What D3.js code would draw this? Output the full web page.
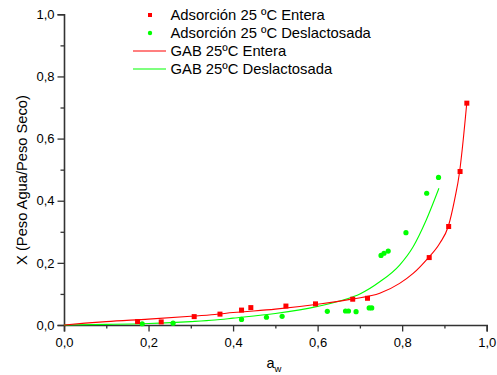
<!DOCTYPE html>
<html>
<head>
<meta charset="utf-8">
<script src="https://cdn.jsdelivr.net/npm/d3@7"></script>
<style>
  body { margin: 0; background: #fff; }
  text { font-family: "Liberation Sans", Arial, sans-serif; fill: #000; }
</style>
</head>
<body>
<div id="chart"></div>
<script>
// measured points: Adsorción 25 ºC Entera
const enteraAw = [0.174, 0.230, 0.308, 0.369, 0.420, 0.442, 0.525, 0.595, 0.683, 0.718, 0.864, 0.910, 0.937, 0.953]
const enteraX  = [0.011, 0.010, 0.027, 0.035, 0.048, 0.056, 0.061, 0.068, 0.083, 0.086, 0.217, 0.317, 0.494, 0.714]

// measured points: Adsorción 25 ºC Deslactosada
const deslacAw = [0.185, 0.258, 0.420, 0.479, 0.516, 0.623, 0.666, 0.673, 0.691, 0.722, 0.728, 0.750, 0.757, 0.767, 0.809, 0.858, 0.886]
const deslacX  = [0.004, 0.006, 0.018, 0.025, 0.028, 0.044, 0.045, 0.045, 0.043, 0.055, 0.055, 0.224, 0.231, 0.238, 0.297, 0.424, 0.475]

// GAB fitted curves
const gabEnteraAw = [0, 0.05, 0.1, 0.2, 0.3, 0.357, 0.4, 0.5, 0.6, 0.684, 0.747, 0.794, 0.826, 0.857, 0.889, 0.909, 0.924, 0.936, 0.942, 0.953]
const gabEnteraX  = [0, 0.006, 0.011, 0.019, 0.028, 0.034, 0.040, 0.051, 0.067, 0.084, 0.102, 0.134, 0.166, 0.209, 0.263, 0.317, 0.403, 0.494, 0.564, 0.716]

const gabDeslacAw = [0, 0.1, 0.2, 0.3, 0.357, 0.4, 0.5, 0.6, 0.684, 0.7, 0.747, 0.794, 0.826, 0.857, 0.887]
const gabDeslacX  = [0, 0.002, 0.005, 0.011, 0.016, 0.022, 0.037, 0.060, 0.091, 0.100, 0.139, 0.193, 0.252, 0.338, 0.440]

const majorTicks = [0, 0.2, 0.4, 0.6, 0.8, 1.0]
const minorTicks = [0.1, 0.3, 0.5, 0.7, 0.9]

const legendLabels = [
    "Adsorción 25 ºC Entera",
    "Adsorción 25 ºC Deslactosada",
    "GAB 25ºC Entera",
    "GAB 25ºC Deslactosada"
]

const width = 497, height = 375

const svg = d3.select("#chart").append("svg")
    .attr("width", width)
    .attr("height", height)

const x = d3.scaleLinear().domain([0, 1]).range([64, 486.7])
const y = d3.scaleLinear().domain([0, 1]).range([325, 14.3])

const fmt = d3.formatLocale({ decimal: ",", thousands: ".", grouping: [3], currency: ["", ""] }).format(".1f")

// x axis
const xAxis = svg.append("g").attr("transform", `translate(0,${y(0)})`)
xAxis.call(d3.axisBottom(x).tickValues(majorTicks).tickFormat(fmt).tickSize(6.5).tickPadding(6))
xAxis.append("g").call(d3.axisBottom(x).tickValues(minorTicks).tickFormat("").tickSize(3.5))
    .select(".domain").remove()

// y axis
const yAxis = svg.append("g").attr("transform", `translate(${x(0)},0)`)
yAxis.call(d3.axisLeft(y).tickValues(majorTicks).tickFormat(fmt).tickSize(6.5).tickPadding(3))
yAxis.append("g").call(d3.axisLeft(y).tickValues(minorTicks).tickFormat("").tickSize(3.5))
    .select(".domain").remove()

svg.selectAll(".domain").attr("stroke", "#333").attr("stroke-width", 1.6)
svg.selectAll(".tick line").attr("stroke", "#333").attr("stroke-width", 1.3)
svg.selectAll(".tick text")
    .style("font-family", "'Liberation Sans', Arial, sans-serif")
    .style("font-size", "13px")
    .attr("fill", "#000")

// axis titles
svg.append("text")
    .attr("transform", "translate(27,180) rotate(-90)")
    .attr("text-anchor", "middle")
    .style("font-size", "14.7px")
    .text("X (Peso Agua/Peso Seco)")

const xt = svg.append("text")
    .attr("x", 266.5)
    .attr("y", 367.5)
    .style("font-size", "14.5px")
xt.append("tspan").text("a")
xt.append("tspan").attr("dy", 4).style("font-size", "9.5px").text("w")

// curves
const line = d3.line().x(d => x(d[0])).y(d => y(d[1])).curve(d3.curveMonotoneX)

svg.append("path")
    .datum(d3.zip(gabDeslacAw, gabDeslacX))
    .attr("fill", "none")
    .attr("stroke", "#00ff00")
    .attr("stroke-width", 1.1)
    .attr("d", line)

svg.append("path")
    .datum(d3.zip(gabEnteraAw, gabEnteraX))
    .attr("fill", "none")
    .attr("stroke", "#ff0000")
    .attr("stroke-width", 1.1)
    .attr("d", line)

// points
svg.selectAll(".pt-des")
    .data(d3.zip(deslacAw, deslacX))
    .enter().append("circle")
    .attr("class", "pt-des")
    .attr("cx", d => x(d[0]))
    .attr("cy", d => y(d[1]))
    .attr("r", 2.6)
    .attr("fill", "#00ff00")

svg.selectAll(".pt-ent")
    .data(d3.zip(enteraAw, enteraX))
    .enter().append("rect")
    .attr("class", "pt-ent")
    .attr("x", d => x(d[0]) - 2.5)
    .attr("y", d => y(d[1]) - 2.5)
    .attr("width", 5)
    .attr("height", 5)
    .attr("fill", "#ff0000")

// legend
const legend = svg.append("g")
const rowY = i => 15 + i * 18

legend.append("rect")
    .attr("x", 148).attr("y", rowY(0) - 2)
    .attr("width", 4).attr("height", 4)
    .attr("fill", "#ff0000")
legend.append("circle")
    .attr("cx", 150).attr("cy", rowY(1))
    .attr("r", 2.2)
    .attr("fill", "#00ff00")
legend.append("line")
    .attr("x1", 133).attr("x2", 166)
    .attr("y1", rowY(2)).attr("y2", rowY(2))
    .attr("stroke", "#ff0000").attr("stroke-width", 1.1)
legend.append("line")
    .attr("x1", 133).attr("x2", 166)
    .attr("y1", rowY(3)).attr("y2", rowY(3))
    .attr("stroke", "#00ff00").attr("stroke-width", 1.1)

legend.selectAll(".lbl")
    .data(legendLabels)
    .enter().append("text")
    .attr("class", "lbl")
    .attr("x", 170.5)
    .attr("y", (d, i) => rowY(i) + 5.2)
    .style("font-size", "14.8px")
    .text(d => d)
</script>
</body>
</html>
